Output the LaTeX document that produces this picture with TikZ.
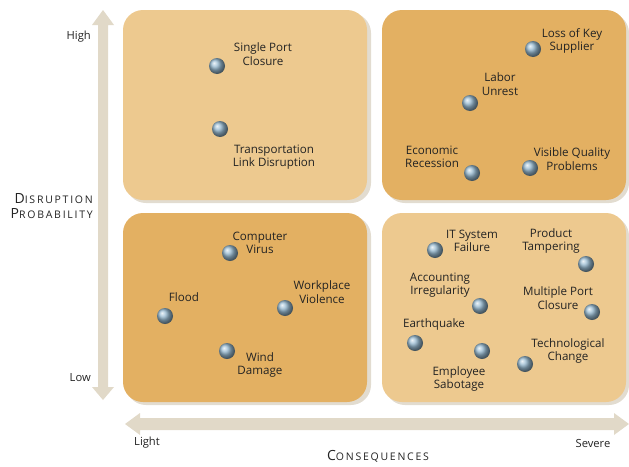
\documentclass[tikz,border=0pt]{standalone}
\usepackage{fontspec}
\setmainfont{Open Sans}
\usetikzlibrary{shapes.geometric}
\definecolor{lighttan}{RGB}{237,201,143}
\definecolor{darktan}{RGB}{227,176,98}
\definecolor{shadowc}{RGB}{226,220,208}
\definecolor{arrowc}{RGB}{225,217,200}
\definecolor{ballc}{RGB}{150,185,208}
\definecolor{txtc}{RGB}{35,35,35}
\begin{document}
\begin{tikzpicture}[x=1pt,y=-1pt,
  quad/.style={rounded corners=20pt},
  ball/.style={circle,minimum size=16pt,inner sep=0pt,shading=ball,ball color=ballc},
  lbl/.style={align=center,text=txtc,font=\fontsize{11.6}{13.5}\selectfont,inner sep=0pt},
  axlbl/.style={text=txtc,font=\fontsize{11.2}{12}\selectfont,inner sep=0pt},
  bigc/.style={text=txtc,inner sep=0pt}]
\useasboundingbox (0,0) rectangle (629,466);
% shadows
\fill[shadowc,quad] (126,13) rectangle (371,203);
\fill[shadowc,quad] (385,13) rectangle (629,203);
\fill[shadowc,quad] (126,216) rectangle (371,405);
\fill[shadowc,quad] (385,216) rectangle (629,405);
% quadrants
\fill[lighttan,quad] (123,10) rectangle (367,200);
\fill[darktan,quad] (382,10) rectangle (626,200);
\fill[darktan,quad] (123,213) rectangle (367,402);
\fill[lighttan,quad] (382,213) rectangle (626,402);
% vertical arrow
\fill[arrowc] (98,25) -- (92,25) -- (103,10) -- (114,25) -- (108,25) -- (108,387) -- (114,387) -- (103,400) -- (92,387) -- (98,387) -- cycle;
% horizontal arrow
\fill[arrowc] (140,418) -- (140,413) -- (125,424) -- (140,435) -- (140,430) -- (614,430) -- (614,435) -- (629,424) -- (614,413) -- (614,418) -- cycle;
% axis labels
\node[axlbl,anchor=east] (high) at (91,37) {High};
\node[axlbl,anchor=east] (low) at (91,378) {Low};
\node[axlbl] (light) at (147,443) {Light};
\node[axlbl] (severe) at (593,443) {Severe};
\node[bigc,anchor=base east] (dp1) at (93,203) {{\fontsize{14}{15}\selectfont D}{\fontsize{10.5}{15}\selectfont I\,S\,R\,U\,P\,T\,I\,O\,N}};
\node[bigc,anchor=base east] (dp2) at (93,218) {{\fontsize{14}{15}\selectfont P}{\fontsize{10.5}{15}\selectfont R\,O\,B\,A\,B\,I\,L\,I\,T\,Y}};
\node[bigc,anchor=base] (cons) at (378,460) {{\fontsize{14}{15}\selectfont C}{\fontsize{10.5}{15}\selectfont O\,N\,S\,E\,Q\,U\,E\,N\,C\,E\,S}};
% top-left
\node[ball] (b1) at (217,66) {};
\node[lbl] (t1) at (263,54) {Single Port\\Closure};
\node[ball] (b2) at (220,129) {};
\node[lbl] (t2) at (274,157) {Transportation\\Link Disruption};
% top-right
\node[ball] (b3) at (533,49) {};
\node[lbl] (t3) at (572,41) {Loss of Key\\Supplier};
\node[ball] (b4) at (470,103) {};
\node[lbl] (t4) at (500,84) {Labor\\Unrest};
\node[ball] (b5) at (472,173) {};
\node[lbl] (t5) at (432,157) {Economic\\Recession};
\node[ball] (b6) at (530,168) {};
\node[lbl] (t6) at (572,159) {Visible Quality\\Problems};
% bottom-left
\node[ball] (b7) at (230,253) {};
\node[lbl] (t7) at (260,243) {Computer\\Virus};
\node[ball] (b8) at (165,316) {};
\node[lbl] (t8) at (184,297) {Flood};
\node[ball] (b9) at (285,308) {};
\node[lbl] (t9) at (322,292) {Workplace\\Violence};
\node[ball] (b10) at (227,351) {};
\node[lbl] (t10) at (260,365) {Wind\\Damage};
% bottom-right
\node[ball] (b11) at (435,250) {};
\node[lbl] (t11) at (472,241) {IT System\\Failure};
\node[ball] (b12) at (586,264) {};
\node[lbl] (t12) at (551,241) {Product\\Tampering};
\node[ball] (b13) at (480,306) {};
\node[lbl] (t13) at (440,285) {Accounting\\Irregularity};
\node[ball] (b14) at (592,312) {};
\node[lbl] (t14) at (558,298) {Multiple Port\\Closure};
\node[ball] (b15) at (415,343) {};
\node[lbl] (t15) at (434,324) {Earthquake};
\node[ball] (b16) at (482,351) {};
\node[lbl] (t16) at (459,379) {Employee\\Sabotage};
\node[ball] (b17) at (525,364) {};
\node[lbl] (t17) at (568,351) {Technological\\Change};
\end{tikzpicture}
\end{document}
